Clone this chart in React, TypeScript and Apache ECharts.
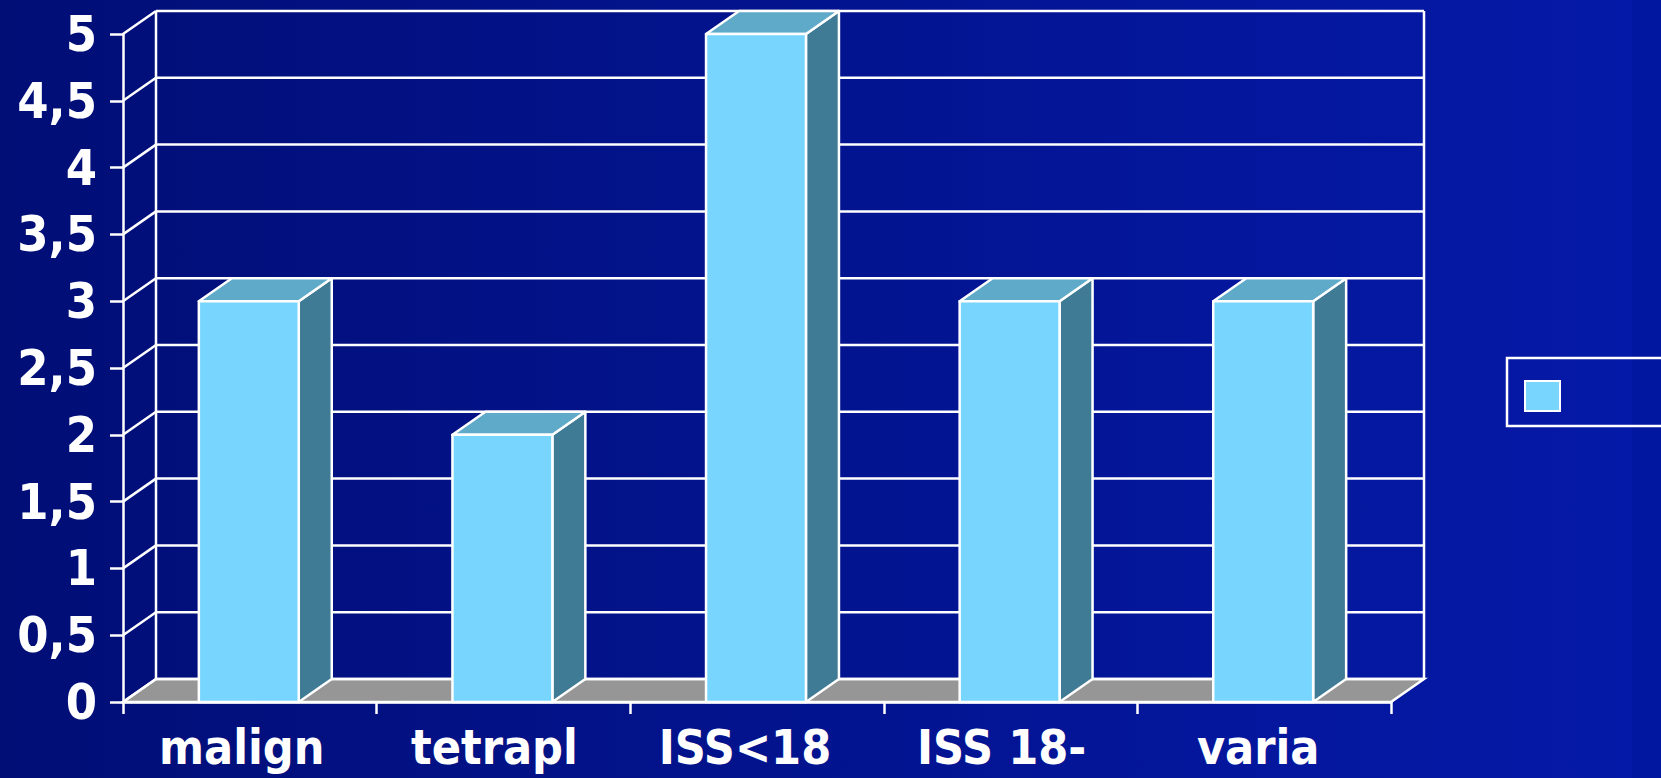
import React, { useEffect, useRef } from "react";
import * as echarts from "echarts";

const categories = ["malign", "tetrapl", "ISS<18", "ISS 18-", "varia"];
const values = [3, 2, 5, 3, 3];
const yMin = 0;
const yMax = 5;
const yStep = 0.5;
const yTickValues = [0, 0.5, 1, 1.5, 2, 2.5, 3, 3.5, 4, 4.5, 5];
const seriesName = "Série 1";

// label shift (px to the left) per category, a style detail
const labelShift = [8, 9, 12, 9, 6];

const DX = 33;
const DY = -23;
const LW = 2.5;
const WHITE = "#ffffff";
const FONT = "'DejaVu Sans Condensed', 'DejaVu Sans', Verdana, sans-serif";

export default function App() {
  const ref = useRef<HTMLDivElement>(null);
  useEffect(() => {
    if (!ref.current) return;
    const chart = echarts.init(ref.current, undefined, { renderer: "svg" });

    const rich: any = {};
    categories.forEach((c, i) => {
      rich["c" + i] = {
        color: WHITE,
        fontSize: 48,
        fontWeight: "bold",
        fontFamily: FONT,
        padding: [0, labelShift[i] * 2, 0, 0],
      };
    });

    const option: any = {
      animation: false,
      grid: { left: 123, top: 34, right: 270, bottom: 76, containLabel: false },
      legend: {
        show: true,
        left: 1507,
        top: 358,
        padding: [22, 300, 14, 17],
        borderColor: WHITE,
        borderWidth: 2.5,
        itemWidth: 35,
        itemHeight: 30,
        itemGap: 0,
        formatter: () => "",
        data: [
          {
            name: seriesName,
            icon: "rect",
            itemStyle: { color: "#78d5fe", borderColor: WHITE, borderWidth: 2 },
          },
        ],
      },
      xAxis: {
        type: "category",
        data: categories,
        boundaryGap: true,
        axisLine: { show: true, lineStyle: { color: WHITE, width: LW } },
        axisTick: { show: true, interval: 0, length: 12, lineStyle: { color: WHITE, width: LW } },
        axisLabel: {
          interval: 0,
          color: WHITE,
          fontSize: 48,
          fontWeight: "bold",
          fontFamily: FONT,
          margin: 21,
          formatter: (v: string) => {
            const i = categories.indexOf(v);
            return "{c" + i + "|" + v + "}";
          },
          rich,
        },
        splitLine: { show: false },
        z: 10,
      },
      yAxis: {
        type: "value",
        min: yMin,
        max: yMax,
        interval: yStep,
        axisLine: { show: true, lineStyle: { color: WHITE, width: LW } },
        axisTick: { show: true, length: 13, lineStyle: { color: WHITE, width: LW } },
        axisLabel: {
          color: WHITE,
          fontSize: 50,
          fontWeight: "bold",
          fontFamily: FONT,
          margin: 26,
          formatter: (v: number) => String(v).replace(".", ","),
        },
        splitLine: { show: false },
        z: 10,
      },
      series: [
        {
          type: "custom",
          name: "walls",
          silent: true,
          z: 1,
          data: yTickValues.map((v) => [0, v]),
          encode: { x: 0, y: 1 },
          renderItem: (params: any, api: any) => {
            const cs = params.coordSys;
            const x0 = cs.x;
            const x1 = cs.x + cs.width;
            const v = api.value(1);
            const y = api.coord([0, v])[1];
            const children: any[] = [];
            if (v === yMin) {
              const yTop = api.coord([0, yMax])[1];
              children.push({
                type: "polygon",
                shape: {
                  points: [
                    [x0, y],
                    [x1, y],
                    [x1 + DX, y + DY],
                    [x0 + DX, y + DY],
                  ],
                },
                style: { fill: "#969696", stroke: WHITE, lineWidth: LW },
              });
              children.push({
                type: "line",
                shape: { x1: x0 + DX, y1: y + DY, x2: x0 + DX, y2: yTop + DY },
                style: { stroke: WHITE, lineWidth: LW },
              });
              children.push({
                type: "line",
                shape: { x1: x1 + DX, y1: y + DY, x2: x1 + DX, y2: yTop + DY },
                style: { stroke: WHITE, lineWidth: LW },
              });
            }
            children.push({
              type: "line",
              shape: { x1: x0, y1: y, x2: x0 + DX, y2: y + DY },
              style: { stroke: WHITE, lineWidth: LW },
            });
            children.push({
              type: "line",
              shape: { x1: x0 + DX, y1: y + DY, x2: x1 + DX, y2: y + DY },
              style: { stroke: WHITE, lineWidth: LW },
            });
            return { type: "group", children };
          },
        },
        {
          type: "custom",
          name: seriesName,
          z: 5,
          itemStyle: { color: "#78d5fe", borderColor: WHITE, borderWidth: 2 },
          data: values.map((v, i) => [i, v]),
          encode: { x: 0, y: 1 },
          renderItem: (params: any, api: any) => {
            const i = api.value(0);
            const v = api.value(1);
            const top = api.coord([i, v]);
            const bot = api.coord([i, 0]);
            const bw = api.size([1, 0])[0] * 0.394;
            const xl = top[0] - bw / 2 - 1;
            const xr = xl + bw;
            const yt = top[1];
            const yb = bot[1];
            const st = { stroke: WHITE, lineWidth: LW, lineJoin: "round" };
            return {
              type: "group",
              children: [
                {
                  type: "polygon",
                  shape: {
                    points: [
                      [xr, yt],
                      [xr + DX, yt + DY],
                      [xr + DX, yb + DY],
                      [xr, yb],
                    ],
                  },
                  style: { fill: "#407b95", ...st },
                },
                {
                  type: "polygon",
                  shape: {
                    points: [
                      [xl, yt],
                      [xr, yt],
                      [xr + DX, yt + DY],
                      [xl + DX, yt + DY],
                    ],
                  },
                  style: { fill: "#5fa9c9", ...st },
                },
                {
                  type: "rect",
                  shape: { x: xl, y: yt, width: bw, height: yb - yt },
                  style: { fill: "#77d5fe", ...st },
                },
              ],
            };
          },
        },
      ],
    };
    chart.setOption(option);
    return () => chart.dispose();
  }, []);

  return (
    <div
      style={{
        position: "fixed",
        left: 0,
        top: 0,
        width: 1661,
        height: 778,
        background:
          "linear-gradient(to right, #010e76 0%, #0519a8 98.2%, #0217a0 98.3%, #0217a0 100%)",
      }}
    >
      <div ref={ref} style={{ width: 1661, height: 778 }} />
    </div>
  );
}
